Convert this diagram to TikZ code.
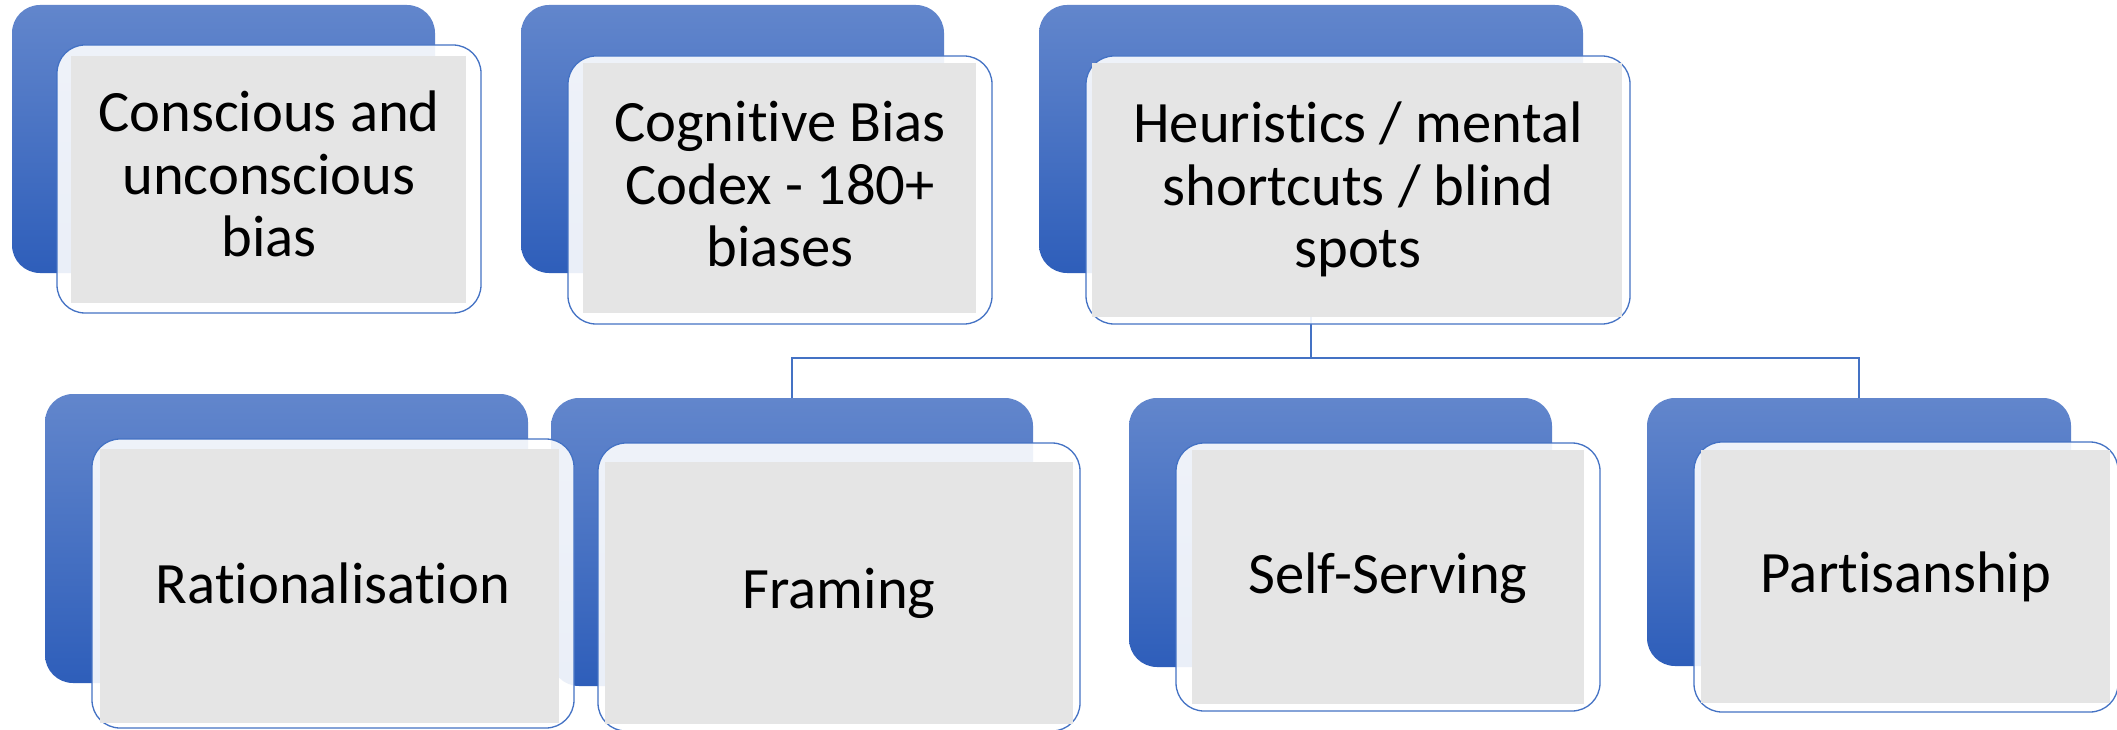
\documentclass[tikz,border=0pt]{standalone}
\usepackage{fontspec}
\setmainfont[Ligatures=NoCommon]{Carlito}
\definecolor{backtop}{RGB}{98,134,204}
\definecolor{backbot}{RGB}{46,94,186}
\definecolor{edgeblue}{RGB}{68,114,196}
\definecolor{innergray}{RGB}{229,229,229}
\tikzset{
  backbox/.style={rectangle, rounded corners=28pt, top color=backtop, bottom color=backbot, draw=none, inner sep=0pt, outer sep=0pt},
  frontbox/.style={rectangle, rounded corners=28pt, fill=white, fill opacity=0.9, draw=edgeblue, line width=1.3pt, inner sep=0pt, outer sep=0pt},
  grayfill/.style={fill=innergray, draw=none},
  conn/.style={draw=edgeblue, line width=1.3pt},
  boxtext/.style={inner sep=0pt, anchor=base, text=black, font=\fontsize{58.6pt}{62.5pt}\selectfont},
}
\newcommand{\lines}[1]{\parbox[t]{520pt}{\centering #1}}
\begin{document}
\begin{tikzpicture}[x=1pt, y=-1pt]
\fill[white] (0,0) rectangle (2117,730);
\useasboundingbox (0,0) rectangle (2117,730);

% back boxes
\node[backbox, minimum width=423pt, minimum height=268pt] (Aback) at (223.5,139) {};
\node[backbox, minimum width=423pt, minimum height=268pt] (Bback) at (732.5,139) {};
\node[backbox, minimum width=544pt, minimum height=268pt] (Cback) at (1311,139) {};
\node[backbox, minimum width=483pt, minimum height=289pt] (Rback) at (286.5,538.5) {};
\node[backbox, minimum width=482pt, minimum height=288pt] (Fback) at (792,542) {};
\node[backbox, minimum width=423pt, minimum height=269pt] (Sback) at (1340.5,532.5) {};
\node[backbox, minimum width=424pt, minimum height=268pt] (Pback) at (1859,532) {};

% connectors
\coordinate (bus) at (0,358);
\draw[conn] (Cback.south) -- (Cback.south |- bus);
\draw[conn] (Fback.north) -- (Fback.north |- bus) -- (Pback.north |- bus) -- (Pback.north);

% front boxes
\node[frontbox, minimum width=424pt, minimum height=268pt] (Afront) at (269,179) {};
\node[frontbox, minimum width=424pt, minimum height=268pt] (Bfront) at (780,190) {};
\node[frontbox, minimum width=544pt, minimum height=268pt] (Cfront) at (1358,190) {};
\node[frontbox, minimum width=482pt, minimum height=289pt] (Rfront) at (333,583.5) {};
\node[frontbox, minimum width=482pt, minimum height=288pt] (Ffront) at (839,587) {};
\node[frontbox, minimum width=424pt, minimum height=268pt] (Sfront) at (1388,577) {};
\node[frontbox, minimum width=424pt, minimum height=270pt] (Pfront) at (1906,577) {};

% inner gray panels
\fill[grayfill] (71,56) rectangle (466,303);
\fill[grayfill] (583,63) rectangle (976,313);
\fill[grayfill] (1092,63) rectangle (1622,317);
\fill[grayfill] (100,449) rectangle (559,723);
\fill[grayfill] (605,462) rectangle (1073,724);
\fill[grayfill] (1192,450) rectangle (1584,704);
\fill[grayfill] (1701,450) rectangle (2110,703);

% texts
\node[boxtext] (Atext) at (269,132) {\lines{Conscious and\\unconscious\\bias}};
\node[boxtext] (Btext) at (780,142) {\lines{Cognitive Bias\\Codex - 180+\\biases}};
\node[boxtext] (Ctext) at (1358,143) {\lines{Heuristics / mental\\shortcuts / blind\\spots}};
\node[boxtext] (Rtext) at (333,603) {\lines{Rationalisation}};
\node[boxtext] (Ftext) at (839,608) {\lines{Framing}};
\node[boxtext] (Stext) at (1388,593) {\lines{Self-Serving}};
\node[boxtext] (Ptext) at (1906,592) {\lines{Partisanship}};
\end{tikzpicture}
\end{document}
